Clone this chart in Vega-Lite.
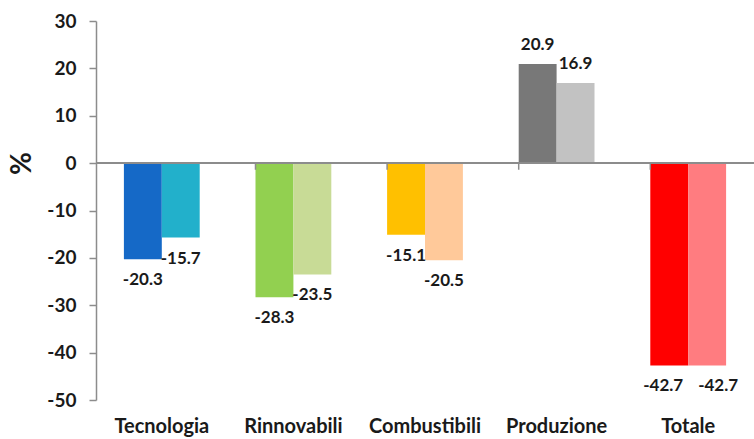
{
  "$schema": "https://vega.github.io/schema/vega-lite/v6.json",
  "width": 658,
  "height": 379,
  "autosize": {"type": "none"},
  "padding": {"left": 96, "top": 21, "right": 0, "bottom": 39},
  "background": "white",
  "config": {
    "view": {"stroke": null},
    "font": "Lato",
    "locale": {"number": {"decimal": ".", "thousands": ",", "grouping": [3], "currency": ["", ""], "minus": "-"}}
  },
  "data": {
    "values": [
      {"cat": "Tecnologia", "serie": "A", "key": "Tecnologia A", "value": -20.3},
      {"cat": "Tecnologia", "serie": "B", "key": "Tecnologia B", "value": -15.7},
      {"cat": "Rinnovabili", "serie": "A", "key": "Rinnovabili A", "value": -28.3},
      {"cat": "Rinnovabili", "serie": "B", "key": "Rinnovabili B", "value": -23.5},
      {"cat": "Combustibili", "serie": "A", "key": "Combustibili A", "value": -15.1},
      {"cat": "Combustibili", "serie": "B", "key": "Combustibili B", "value": -20.5},
      {"cat": "Produzione", "serie": "A", "key": "Produzione A", "value": 20.9},
      {"cat": "Produzione", "serie": "B", "key": "Produzione B", "value": 16.9},
      {"cat": "Totale", "serie": "A", "key": "Totale A", "value": -42.7},
      {"cat": "Totale", "serie": "B", "key": "Totale B", "value": -42.7}
    ]
  },
  "layer": [
    {
      "mark": {"type": "bar"},
      "encoding": {
        "x": {
          "field": "cat", "type": "nominal",
          "sort": ["Tecnologia", "Rinnovabili", "Combustibili", "Produzione", "Totale"],
          "scale": {"paddingInner": 0.424, "paddingOuter": 0.212},
          "axis": {"title": null, "labelAngle": 0, "domain": false, "ticks": false, "labelFontWeight": "bold", "labelFontSize": 20, "labelColor": "#1a1a1a", "labelPadding": 16}
        },
        "xOffset": {"field": "serie", "type": "nominal", "scale": {"paddingInner": 0, "paddingOuter": 0}},
        "y": {
          "field": "value", "type": "quantitative",
          "scale": {"domain": [-50, 30], "nice": false, "zero": false},
          "axis": {
            "title": "%", "titleFontSize": 28, "titleFontWeight": "bold", "titleColor": "#1a1a1a",
            "titleAngle": -90, "titleX": -74, "titleY": 142, "titleAlign": "center", "titleBaseline": "middle",
            "values": [-50, -40, -30, -20, -10, 0, 10, 20, 30],
            "grid": false, "domainColor": "#8c8c8c", "domainWidth": 1.5, "tickColor": "#8c8c8c", "tickWidth": 1.5, "tickSize": 7,
            "labelFontWeight": "bold", "labelFontSize": 19, "labelColor": "#1a1a1a", "labelPadding": 13
          }
        },
        "color": {
          "field": "key", "type": "nominal", "legend": null,
          "scale": {
            "domain": ["Tecnologia A", "Tecnologia B", "Rinnovabili A", "Rinnovabili B", "Combustibili A", "Combustibili B", "Produzione A", "Produzione B", "Totale A", "Totale B"],
            "range": ["#1569C7", "#22B0CB", "#92D050", "#C8DB96", "#FFC000", "#FFC99A", "#787878", "#C2C2C2", "#FF0000", "#FF7C80"]
          }
        }
      }
    },
    {
      "mark": {"type": "rule", "color": "#8c8c8c", "strokeWidth": 1.5},
      "encoding": {"y": {"datum": 0}}
    },
    {
      "transform": [{"filter": "datum.serie == 'A' && datum.cat != 'Tecnologia'"}],
      "mark": {"type": "rule", "color": "#8c8c8c", "strokeWidth": 1.5},
      "encoding": {
        "x": {"field": "cat", "type": "nominal", "bandPosition": 0, "sort": ["Tecnologia", "Rinnovabili", "Combustibili", "Produzione", "Totale"]},
        "y": {"datum": 0},
        "y2": {"datum": -1.4}
      }
    },
    {
      "transform": [{"filter": "datum.value < 0"}],
      "mark": {"type": "text", "baseline": "middle", "align": "center", "dy": 21, "dx": {"expr": "datum.cat == 'Totale' ? (datum.serie == 'A' ? -6 : 11) : 0"}, "fontWeight": "bold", "fontSize": 17, "color": "#1a1a1a"},
      "encoding": {
        "x": {"field": "cat", "type": "nominal", "sort": ["Tecnologia", "Rinnovabili", "Combustibili", "Produzione", "Totale"]},
        "xOffset": {"field": "serie", "type": "nominal"},
        "y": {"field": "value", "type": "quantitative"},
        "text": {"field": "value", "type": "quantitative", "format": ".1f"}
      }
    },
    {
      "transform": [{"filter": "datum.value >= 0"}],
      "mark": {"type": "text", "baseline": "middle", "align": "center", "dy": -19, "fontWeight": "bold", "fontSize": 17, "color": "#1a1a1a"},
      "encoding": {
        "x": {"field": "cat", "type": "nominal", "sort": ["Tecnologia", "Rinnovabili", "Combustibili", "Produzione", "Totale"]},
        "xOffset": {"field": "serie", "type": "nominal"},
        "y": {"field": "value", "type": "quantitative"},
        "text": {"field": "value", "type": "quantitative", "format": ".1f"}
      }
    }
  ]
}
